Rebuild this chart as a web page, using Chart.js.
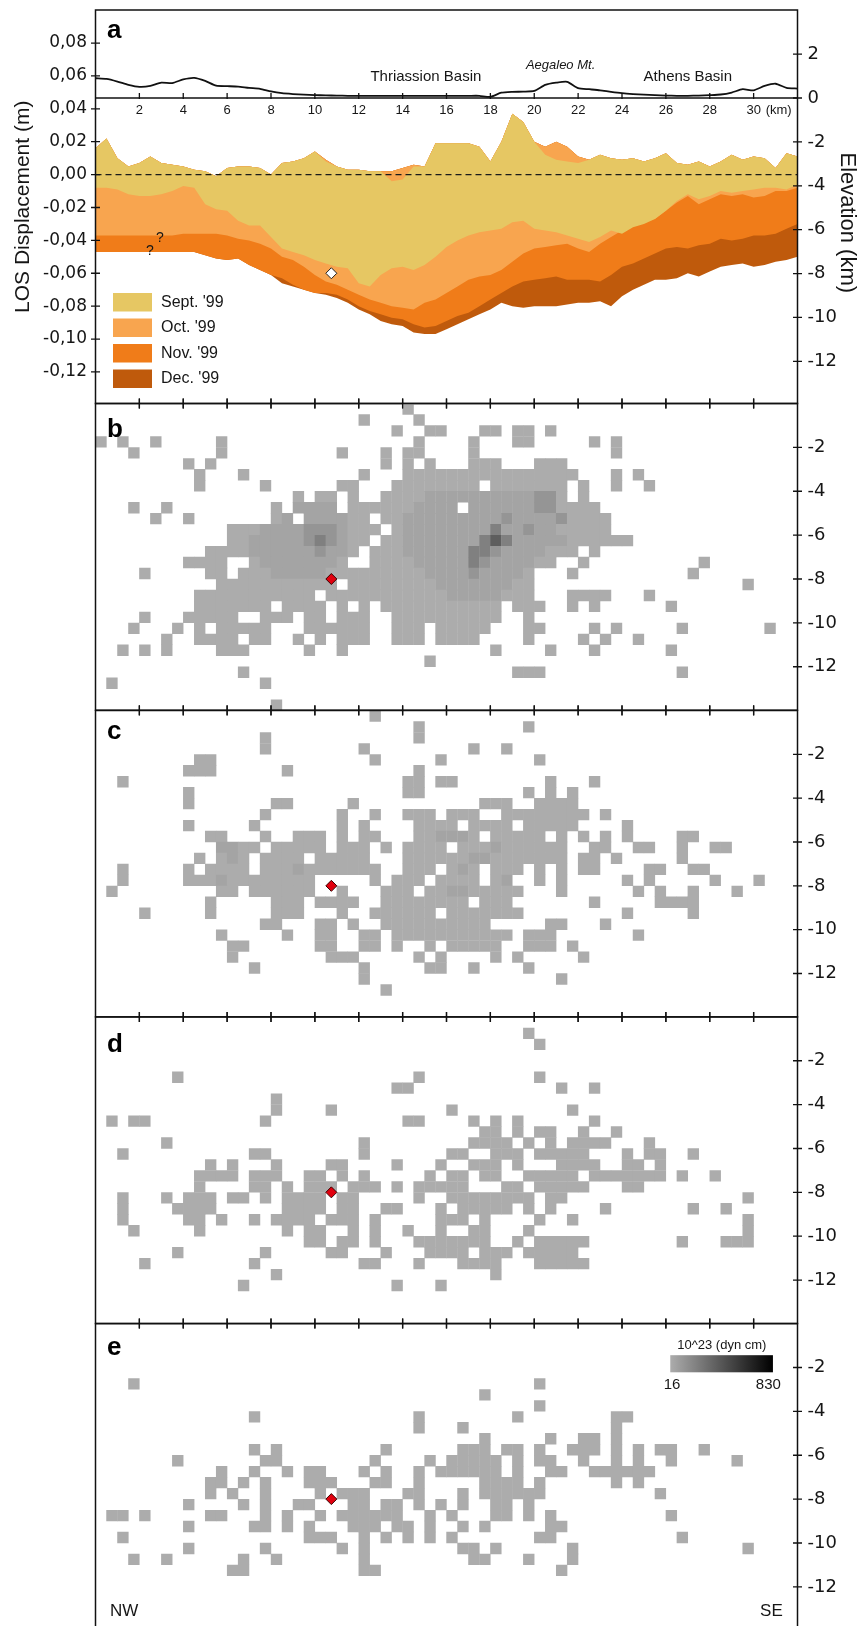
<!DOCTYPE html>
<html>
<head>
<meta charset="utf-8">
<title>LOS displacement and seismic moment sections</title>
<script src="https://cdn.jsdelivr.net/npm/chart.js@4.4.1/dist/chart.umd.min.js"></script>
<style>
    html, body { margin: 0; padding: 0; background: #fff; width: 865px; height: 1626px; overflow: hidden; }
    canvas { position: absolute; left: 0; }
</style>
</head>
<body>
<canvas id="panelA" width="865" height="412" style="top:0px"></canvas>
<canvas id="panelB" width="865" height="320" style="top:397px"></canvas>
<canvas id="panelC" width="865" height="320" style="top:704px"></canvas>
<canvas id="panelD" width="865" height="320" style="top:1010px"></canvas>
<canvas id="panelE" width="865" height="320" style="top:1317px"></canvas>
<script>
// profile distance along the section (km)
const distKm = [0,0.5,1,1.5,2,2.5,3,3.5,4,4.5,5,5.5,6,6.5,7,7.5,8,8.5,9,9.5,10,10.5,11,11.5,12,12.5,13,13.5,14,14.5,
    15,15.5,16,16.5,17,17.5,18,18.5,19,19.5,20,20.5,21,21.5,22,22.5,23,23.5,24,24.5,25,25.5,26,26.5,27,27.5,28,28.5,29,29.5,
    30,30.5,31,31.5,32];

// topography (km)
const elevationKm = [0.90,0.87,0.75,0.60,0.51,0.55,0.70,0.68,0.85,0.92,
    0.78,0.56,0.54,0.52,0.46,0.42,0.30,0.22,0.18,0.15,
    0.13,0.12,0.11,0.10,0.10,0.10,0.10,0.10,0.10,0.10,
    0.10,0.10,0.10,0.10,0.10,0.10,0.05,0.24,0.28,0.29,
    0.32,0.60,0.70,0.74,0.45,0.40,0.35,0.28,0.22,0.18,
    0.15,0.13,0.11,0.10,0.10,0.11,0.13,0.16,0.25,0.40,
    0.35,0.55,0.65,0.46,0.43];

// LOS displacement bands (m)
const septTop = [0.016,0.022,0.010,0.005,0.007,0.011,0.007,0.006,0.005,0.003,
    0.002,-0.001,0.004,0.005,0.005,0.004,0.000,0.007,0.008,0.010,
    0.014,0.008,0.005,0.003,0.003,0.002,0.002,-0.004,-0.003,0.005,
    0.005,0.019,0.019,0.019,0.019,0.017,0.008,0.020,0.037,0.032,
    0.020,0.012,0.009,0.008,0.007,0.009,0.012,0.010,0.009,0.010,
    0.008,0.010,0.013,0.007,0.006,0.008,0.005,0.008,0.012,0.009,
    0.011,0.010,0.004,0.013,0.011];
const laterTop = [0.016,0.022,0.010,0.005,0.007,0.011,0.007,0.006,0.005,0.003,
    0.002,-0.001,0.004,0.005,0.005,0.004,0.000,0.007,0.008,0.010,
    0.014,0.009,0.005,0.003,0.003,0.002,0.002,0.002,0.004,0.006,
    0.005,0.019,0.019,0.019,0.019,0.017,0.008,0.020,0.037,0.032,
    0.020,0.017,0.020,0.017,0.011,0.009,0.012,0.010,0.009,0.010,
    0.008,0.010,0.013,0.007,0.006,0.008,0.005,0.008,0.012,0.009,
    0.011,0.010,0.004,0.013,0.011];
const septLow = [-0.008,-0.008,-0.009,-0.012,-0.013,-0.013,-0.012,-0.010,-0.007,-0.008,
    -0.018,-0.021,-0.022,-0.028,-0.031,-0.031,-0.038,-0.045,-0.047,-0.049,
    -0.052,-0.054,-0.056,-0.057,-0.066,-0.068,-0.061,-0.057,-0.056,-0.058,
    -0.055,-0.050,-0.044,-0.040,-0.037,-0.035,-0.034,-0.033,-0.029,-0.028,
    -0.033,-0.034,-0.035,-0.037,-0.039,-0.041,-0.038,-0.034,-0.036,-0.032,
    -0.030,-0.027,-0.022,-0.016,-0.012,-0.015,-0.013,-0.010,-0.011,-0.010,
    -0.009,-0.008,-0.008,-0.009,-0.006];
const octLow = [-0.037,-0.037,-0.037,-0.037,-0.037,-0.037,-0.037,-0.037,-0.036,-0.036,
    -0.036,-0.036,-0.037,-0.039,-0.040,-0.042,-0.045,-0.050,-0.052,-0.056,
    -0.061,-0.065,-0.067,-0.070,-0.073,-0.076,-0.078,-0.080,-0.081,-0.082,
    -0.078,-0.076,-0.072,-0.068,-0.064,-0.062,-0.061,-0.058,-0.053,-0.048,
    -0.045,-0.044,-0.043,-0.042,-0.045,-0.047,-0.042,-0.038,-0.034,-0.030,
    -0.028,-0.027,-0.022,-0.017,-0.013,-0.018,-0.015,-0.012,-0.013,-0.012,
    -0.014,-0.013,-0.010,-0.010,-0.008];
const novLow = [-0.047,-0.047,-0.047,-0.047,-0.047,-0.047,-0.047,-0.047,-0.047,-0.047,
    -0.049,-0.051,-0.052,-0.051,-0.055,-0.058,-0.061,-0.063,-0.067,-0.070,
    -0.072,-0.072,-0.073,-0.076,-0.080,-0.083,-0.085,-0.087,-0.088,-0.091,
    -0.093,-0.092,-0.089,-0.086,-0.084,-0.080,-0.076,-0.072,-0.068,-0.065,
    -0.064,-0.063,-0.062,-0.064,-0.064,-0.064,-0.065,-0.061,-0.056,-0.054,
    -0.051,-0.048,-0.045,-0.044,-0.045,-0.043,-0.042,-0.039,-0.040,-0.039,
    -0.037,-0.037,-0.036,-0.033,-0.030];
const decLow = [-0.047,-0.047,-0.047,-0.047,-0.047,-0.047,-0.047,-0.047,-0.047,-0.047,
    -0.049,-0.051,-0.052,-0.051,-0.055,-0.058,-0.061,-0.066,-0.068,-0.070,
    -0.072,-0.073,-0.075,-0.078,-0.082,-0.085,-0.089,-0.091,-0.092,-0.096,
    -0.097,-0.097,-0.094,-0.091,-0.088,-0.085,-0.082,-0.078,-0.080,-0.081,
    -0.080,-0.080,-0.080,-0.079,-0.078,-0.078,-0.077,-0.080,-0.074,-0.070,
    -0.067,-0.064,-0.064,-0.063,-0.060,-0.062,-0.059,-0.056,-0.055,-0.054,
    -0.056,-0.055,-0.053,-0.052,-0.050];

const months = ["Sept. '99", "Oct. '99", "Nov. '99", "Dec. '99"];
const monthColors = ['#e6c763', '#f8a54f', '#f07c19', '#bf5a0c'];

const losMarker = [{x: 10.75, y: -0.06}];
const hypoMarker = [{x: 10.75, y: -8}];
const questionMarks = [{x: 2.93, y: -0.0385}, {x: 2.48, y: -0.0464}];
const places = [
    {text: 'Thriassion Basin', x: 15.06, y: 0.96, italic: false},
    {text: 'Aegaleo Mt.', x: 21.2, y: 1.5, italic: true},
    {text: 'Athens Basin', x: 27.0, y: 0.96, italic: false}
];

const kmTicks = [2, 4, 6, 8, 10, 12, 14, 16, 18, 20, 22, 24, 26, 28, 30];
const losTicks = [0.08, 0.06, 0.04, 0.02, 0, -0.02, -0.04, -0.06, -0.08, -0.10, -0.12];
const elevTicksA = [2, 0, -2, -4, -6, -8, -10, -12];
const elevTicks = [-2, -4, -6, -8, -10, -12];

// seismic moment cells, 0.5 km, one string per depth row: "col", "from-to", "col:shade"
const cellKm = 0.5;
const momentRowsB = [
    '28',
    '24,29',
    '27,30-31,35-36,38-39,41',
    '0,2,5,11,29,34,38-39,45,47',
    '3,11,22,26,28-29,34,47',
    '8,10,26,28,30,34-36,40-42',
    '9,13,24,28-43,47,49',
    '9,15,22-23,27-34,36-42,44,47,50',
    '18,20-21,23,26-42,44,30-41:2,40-41:3',
    '3,6,16,18-21,23-32,34-45,17-21:2,29-41:2,40-41:3',
    '5,8,16-17,19-24,26-46,17-22:2,28-41:2,37:3,42:3',
    '12-25,27-46,15-22:2,28-41:2,19-21:3,36:4,39:3',
    '12-24,26-48,14-22:2,28-42:2,19-21:3,20:4,35:4,36:5,37:4',
    '10-23,25-43,45,14-22:2,28-40:2,20:3,34-35:4,36:3',
    '8-11,14-22,25-41,44,55,15-21:2,29-39:2,34:4,35:3',
    '4,10-11,13-39,43,54,16-20:2,30-38:2,34:3',
    '11-21,23-39,59,31-37:2',
    '9-19,21-39,43-46,50,32-36:2',
    '9-15,17-20,22,24,26-36,38-40,43,45,52',
    '4,8-12,15-17,19-20,22-24,27-36,39',
    '3,7,9,11-15,19-24,27-29,31-35,39-40,45,47,53,61',
    '6,9-12,14-15,18,20,22-24,27-29,31-34,39,44,46,49',
    '2,4,6,11-13,19,22,36,41,45,52',
    '30',
    '13,38-40,53',
    '1,15',
    '',
    '16'
];
const momentRowsC = [
    '25',
    '29,39',
    '15,29',
    '15,24,34,37',
    '9-10,25,31,40',
    '8-10,17,29',
    '2,28-29,31-32,41,45',
    '8,28-29,39,41,43',
    '8,16-17,23,35-37,40-43',
    '15,22,25,28-30,32-34,37-44,46',
    '8,14,22,24,29-32,34-37,39-43,48',
    '10-11,15,18-20,22,24-25,29-34,36-40,42,44,46,48,53-54,31-33:2,41:2',
    '11-14,16-20,22-24,26,28-31,33-42,45-46,49-50,53,56-57,11-12:2,36:2',
    '9,11-13,15-18,20-24,28-42,44-45,47,53,34-35:2,12:2',
    '2,8,10-13,15-25,28-30,32-34,36-38,40,42,44-45,50-51,54-55,18:2,33:2',
    '2,8-19,25,27-29,31-34,36-37,40,42,48,50,56,60,11:2,37:2',
    '1,11-12,14-19,22,26-28,30-38,42,49,51,54,58,32-33:2',
    '10,16-18,20-23,26-33,35-37,45,51-54',
    '4,10,16-18,22,25-30,32-38,48,54',
    '15-16,20-21,23,26-35,41-42,46',
    '11,17,20-21,24-25,27-37,39-41,49',
    '12-13,20-21,24-25,27,30,32-36,39-41,43',
    '12,21-23,29,31,36,38,44',
    '14,24,30-31,34,39',
    '24,42',
    '26',
    '',
    ''
];
const momentRowsD = [
    '',
    '39',
    '40',
    '',
    '',
    '7,29,40',
    '27-28,42,45',
    '16',
    '16,21,32,43',
    '1,3-4,15,28-29,34,36,38,45',
    '35-36,38,40-41,44,47',
    '6,24,34-37,39,41,43-46,50',
    '2,14-15,24,32-33,36-38,40-44,48,50-51,54',
    '10,12,16,21-22,27,31,34-36,38,42-45,48-49,51',
    '9-12,14-16,19-20,22,24,30,32-33,35-36,39-43,45-51,53,56',
    '9,14-15,17,19-21,23-25,27,29-33,37-38,40-44,48-49',
    '2,6,8-10,12-13,15,17-20,22-23,29,32-39,41-42,59',
    '2,7-10,17-20,22-23,26-27,31,33-37,39,41,46,54,57',
    '2,8-9,11,14,16-19,21-23,25,31-33,35,40,43,59',
    '3,9,17,19-20,23,25,28,31,34-35,39,59',
    '19-20,22-23,25,29-35,38,40-44,53,57-59',
    '7,15,21-22,26,30-33,35-37,39-43',
    '4,14,24-25,29,33-36,40-44',
    '16,36',
    '13,27,31',
    '',
    '',
    ''
];
const momentRowsE = [
    '',
    '',
    '',
    '',
    '',
    '3,40',
    '35',
    '40',
    '14,29,38,47-48',
    '29,33,47',
    '35,41,44-45,47',
    '14,16,26,33-35,37-38,40,43-45,47,49,51-52,55',
    '7,15-16,25,30,32-36,38,40-41,44,47,49,52,58',
    '11,14,17,19-20,24,26,29,31-36,38,41-42,45-50',
    '10-11,13,15,19-21,25-26,29,35-38,40,47,49',
    '10,12,15,20,22-24,28-29,33,35-40,51',
    '8,13,15,18-19,23-24,26-27,29,31,33,36-37,39',
    '1-2,4,10-11,15,17,20,22-27,30,32,36-37,39,41,52',
    '8,14-15,17,19,23-25,27-28,30,33,35,41-42',
    '2,19-21,24,26,28,30,32,40-41,53',
    '8,15,22,24,33-34,36,43,59',
    '3,6,13,16,24,34-35,39,43',
    '12-13,24-25,42',
    '',
    '',
    '',
    '',
    ''
];
const shadeColors = ['#ffffff', '#acacac', '#a4a4a4', '#959595', '#808080', '#5e5e5e'];
const colorbarTitle = '10^23 (dyn cm)';
const colorbarLabels = ['16', '830'];

// panel frame positions in page pixels
const frameTopA = 10, frameBottomA = 403.5, heatFrameHeight = 306.7;
const heatCanvasTops = [397, 704, 1010, 1317];
const heatFrameTops = [403.5, 710.2, 1016.9, 1323.6];

const TEXT = '#161616';
const SANS = '"Liberation Sans", Arial, sans-serif';
const WIDE = '"DejaVu Sans", sans-serif';

function _points(values) {
    return values.map((v, i) => ({x: distKm[i], y: v}));
}

function _parseMomentRows(rows) {
    let cells = new Map();
    rows.forEach((row, r) => {
        let tokens = row ? row.split(',') : [];
        tokens.filter(t => t.indexOf(':') < 0).forEach(t => {
            let [a, b] = t.split('-').map(Number);
            let end = isNaN(b) ? a : b;
            for (let c = a; c <= end; c++) {
                cells.set(r + '_' + c, {x: (c + 0.5) * cellKm, y: -(r + 0.5) * cellKm, v: 1});
            }
        });
        tokens.filter(t => t.indexOf(':') >= 0).forEach(t => {
            let [span, level] = t.split(':');
            let [a, b] = span.split('-').map(Number);
            let end = isNaN(b) ? a : b;
            for (let c = a; c <= end; c++) {
                let cell = cells.get(r + '_' + c);
                if (cell) {
                    cell.v = Math.max(cell.v, Number(level));
                }
            }
        });
    });
    return Array.from(cells.values());
}

function _cellRadius(chart) {
    let xs = chart.scales.x;
    let px = xs.getPixelForValue(cellKm) - xs.getPixelForValue(0);
    return (px + 0.4) / Math.SQRT2;
}

// keep the frame where it is: no extra room for end labels
function _fixVertical(width) {
    return scale => {
        scale.width = width;
        scale.paddingTop = 0;
        scale.paddingBottom = 0;
    };
}

function _tickLine(ctx, x1, y1, x2, y2) {
    ctx.moveTo(x1, y1);
    ctx.lineTo(x2, y2);
}

function _drawFrame(chart, yScaleId, ticks, topTicks, bottomTicks) {
    let ctx = chart.ctx, area = chart.chartArea, xs = chart.scales.x, ys = chart.scales[yScaleId];
    ctx.save();
    ctx.strokeStyle = '#111';
    ctx.lineWidth = 1.5;
    ctx.strokeRect(area.left, area.top, area.right - area.left, area.bottom - area.top);
    ctx.lineWidth = 1.3;
    ctx.beginPath();
    kmTicks.forEach(v => {
        let px = xs.getPixelForValue(v);
        if (topTicks) {
            _tickLine(ctx, px, area.top - 5, px, area.top + 5);
        }
        if (bottomTicks) {
            _tickLine(ctx, px, area.bottom - 5, px, area.bottom + 5);
        }
    });
    ticks.forEach(v => {
        let py = ys.getPixelForValue(v);
        _tickLine(ctx, area.right - 4.5, py, area.right + 4.5, py);
    });
    ctx.stroke();
    ctx.restore();
}

function _drawLetter(chart, letter, baseline) {
    let ctx = chart.ctx, area = chart.chartArea;
    ctx.save();
    ctx.fillStyle = '#000';
    ctx.font = 'bold 26px ' + SANS;
    ctx.textAlign = 'left';
    ctx.textBaseline = 'alphabetic';
    ctx.fillText(letter, area.left + 11.5, area.top + baseline);
    ctx.restore();
}

const profilePlugin = {
    id: 'profileDecor',
    afterDraw(chart) {
        let ctx = chart.ctx, area = chart.chartArea, xs = chart.scales.x, ys = chart.scales.y, ye = chart.scales.yE;
        _drawFrame(chart, 'yE', elevTicksA, false, true);

        ctx.save();
        // sea-level line of the topography strip
        let seaY = ye.getPixelForValue(0);
        ctx.strokeStyle = '#111';
        ctx.lineWidth = 1.5;
        ctx.beginPath();
        _tickLine(ctx, area.left, seaY, area.right, seaY);
        ctx.stroke();
        ctx.lineWidth = 1.3;
        ctx.beginPath();
        kmTicks.forEach(v => {
            let px = xs.getPixelForValue(v);
            _tickLine(ctx, px, seaY - 5, px, seaY + 1);
        });
        losTicks.forEach(v => {
            let py = ys.getPixelForValue(v);
            _tickLine(ctx, area.left - 4.5, py, area.left + 4.5, py);
        });
        ctx.stroke();

        ctx.fillStyle = TEXT;
        ctx.textBaseline = 'middle';
        ctx.textAlign = 'left';
        ctx.font = '13px ' + SANS;
        ctx.fillText('(km)', xs.getPixelForValue(30) + 12, seaY + 12.5);

        ctx.textAlign = 'center';
        places.forEach(p => {
            ctx.font = (p.italic ? 'italic 13px ' : '15px ') + SANS;
            ctx.fillText(p.text, xs.getPixelForValue(p.x), ye.getPixelForValue(p.y));
        });

        ctx.font = '14px ' + SANS;
        questionMarks.forEach(q => {
            ctx.fillText('?', xs.getPixelForValue(q.x), ys.getPixelForValue(q.y));
        });

        // legend
        months.forEach((m, i) => {
            let top = area.top + 283 + i * 25.5;
            ctx.fillStyle = monthColors[i];
            ctx.fillRect(area.left + 17.5, top, 39, 18.5);
            ctx.fillStyle = TEXT;
            ctx.textAlign = 'left';
            ctx.font = '16px ' + SANS;
            ctx.fillText(m, area.left + 65.5, top + 9.5);
        });

        // right axis title
        ctx.save();
        ctx.translate(area.right + 49.5, (area.top + area.bottom) / 2 + 16);
        ctx.rotate(Math.PI / 2);
        ctx.textAlign = 'center';
        ctx.font = '22px ' + SANS;
        ctx.fillText('Elevation (km)', 0, 0);
        ctx.restore();
        ctx.restore();

        _drawLetter(chart, 'a', 28);
    }
};

function _createProfileChart(elementId) {
    let datasets = [
        {
            type: 'scatter', label: 'reference point', data: losMarker, yAxisID: 'y',
            pointStyle: 'rectRot', pointRadius: 5.5, pointBackgroundColor: '#ffffff',
            pointBorderColor: '#222', pointBorderWidth: 1
        },
        {
            label: 'zero', data: [{x: 0, y: 0}, {x: 32, y: 0}], yAxisID: 'y',
            borderColor: '#1a1a1a', borderWidth: 1.4, borderDash: [6, 4], pointRadius: 0, fill: false
        },
        {
            label: 'topography', data: _points(elevationKm), yAxisID: 'yE',
            borderColor: '#111', borderWidth: 1.8, pointRadius: 0, fill: false, tension: 0.2
        }
    ];
    let tops = [septTop, laterTop, laterTop, laterTop];
    let lows = [septLow, octLow, novLow, decLow];
    months.forEach((m, i) => {
        datasets.push({
            label: m + ' top', data: _points(tops[i]), yAxisID: 'y',
            borderColor: 'rgba(0,0,0,0)', borderWidth: 0, pointRadius: 0, fill: false
        });
        datasets.push({
            label: m, data: _points(lows[i]), yAxisID: 'y',
            borderColor: 'rgba(0,0,0,0)', borderWidth: 0, pointRadius: 0,
            fill: '-1', backgroundColor: monthColors[i]
        });
    });

    let canvas = document.getElementById(elementId);
    return new Chart(canvas, {
        type: 'line',
        data: {datasets: datasets},
        options: {
            responsive: false,
            animation: false,
            events: [],
            layout: {
                padding: {top: frameTopA, bottom: canvas.height - frameBottomA, left: 0, right: 0}
            },
            plugins: {
                legend: {display: false},
                tooltip: {enabled: false}
            },
            scales: {
                x: {
                    type: 'linear',
                    min: 0,
                    max: 32,
                    position: {yE: 0},
                    afterBuildTicks: scale => { scale.ticks = kmTicks.map(v => ({value: v})); },
                    afterFit: scale => { scale.paddingLeft = 0; scale.paddingRight = 0; },
                    grid: {display: false, drawTicks: false},
                    border: {display: false},
                    ticks: {
                        padding: 4.5,
                        color: TEXT,
                        maxRotation: 0,
                        autoSkip: false,
                        font: {family: SANS, size: 13}
                    }
                },
                y: {
                    type: 'linear',
                    position: 'left',
                    min: -0.1392,
                    max: 0.1001,
                    afterFit: _fixVertical(95.5),
                    afterBuildTicks: scale => { scale.ticks = losTicks.map(v => ({value: v})); },
                    grid: {display: false, drawTicks: false},
                    border: {display: false},
                    ticks: {
                        padding: 8.5,
                        color: TEXT,
                        font: {family: WIDE, size: 17},
                        callback: function(value) {
                            return value.toFixed(2).replace('.', ',');
                        }
                    },
                    title: {
                        display: true,
                        text: 'LOS Displacement (m)',
                        color: TEXT,
                        padding: {top: 11, bottom: 0},
                        font: {family: SANS, size: 21}
                    }
                },
                yE: {
                    type: 'linear',
                    position: 'right',
                    min: -13.92,
                    max: 4.01,
                    afterFit: _fixVertical(67.5),
                    afterBuildTicks: scale => { scale.ticks = elevTicksA.map(v => ({value: v})); },
                    grid: {display: false, drawTicks: false},
                    border: {display: false},
                    ticks: {
                        padding: 10,
                        color: TEXT,
                        font: {family: WIDE, size: 18}
                    }
                }
            }
        },
        plugins: [profilePlugin]
    });
}

function _createMomentChart(elementId, rows, index, letter, letterBaseline, isLast) {
    let canvas = document.getElementById(elementId);
    let padTop = heatFrameTops[index] - heatCanvasTops[index];
    let padBottom = canvas.height - padTop - heatFrameHeight;
    return new Chart(canvas, {
        type: 'scatter',
        data: {
            datasets: [
                {
                    label: 'hypocentre', data: hypoMarker,
                    pointStyle: 'rectRot', pointRadius: 5.5,
                    pointBackgroundColor: '#e1000e', pointBorderColor: '#3b0000', pointBorderWidth: 1
                },
                {
                    label: 'moment', data: _parseMomentRows(rows),
                    pointStyle: 'rect',
                    pointRadius: ctx => _cellRadius(ctx.chart),
                    pointBackgroundColor: ctx => shadeColors[ctx.raw ? ctx.raw.v : 1],
                    pointBorderWidth: 0
                }
            ]
        },
        options: {
            responsive: false,
            animation: false,
            events: [],
            layout: {
                padding: {top: padTop, bottom: padBottom, left: 95.5, right: 0}
            },
            plugins: {
                legend: {display: false},
                tooltip: {enabled: false}
            },
            scales: {
                x: {type: 'linear', min: 0, max: 32, display: false},
                y: {
                    type: 'linear',
                    position: 'right',
                    min: -13.98,
                    max: 0,
                    afterFit: _fixVertical(67.5),
                    afterBuildTicks: scale => { scale.ticks = elevTicks.map(v => ({value: v})); },
                    grid: {display: false, drawTicks: false},
                    border: {display: false},
                    ticks: {
                        padding: 10,
                        color: TEXT,
                        font: {family: WIDE, size: 18}
                    }
                }
            }
        },
        plugins: [{
            id: 'momentDecor',
            afterDraw(chart) {
                _drawFrame(chart, 'y', elevTicks, true, !isLast);
                _drawLetter(chart, letter, letterBaseline);
                if (!isLast) {
                    return;
                }
                let ctx = chart.ctx, xs = chart.scales.x, ys = chart.scales.y;
                ctx.save();
                ctx.fillStyle = TEXT;
                ctx.textBaseline = 'middle';
                ctx.font = '17px ' + SANS;
                ctx.textAlign = 'left';
                ctx.fillText('NW', xs.getPixelForValue(0.66), ys.getPixelForValue(-13.1));
                ctx.textAlign = 'right';
                ctx.fillText('SE', xs.getPixelForValue(31.33), ys.getPixelForValue(-13.1));

                // colour scale
                let x0 = xs.getPixelForValue(26.2), x1 = xs.getPixelForValue(30.88);
                let y0 = ys.getPixelForValue(-1.44), y1 = ys.getPixelForValue(-2.22);
                let grad = ctx.createLinearGradient(x0, 0, x1, 0);
                grad.addColorStop(0, shadeColors[1]);
                grad.addColorStop(1, '#000000');
                ctx.fillStyle = grad;
                ctx.fillRect(x0, y0, x1 - x0, y1 - y0);
                ctx.fillStyle = TEXT;
                ctx.font = '13px ' + SANS;
                ctx.textAlign = 'center';
                ctx.fillText(colorbarTitle, xs.getPixelForValue(28.55), ys.getPixelForValue(-0.98));
                ctx.font = '15px ' + SANS;
                ctx.textAlign = 'left';
                ctx.fillText(colorbarLabels[0], xs.getPixelForValue(25.9), ys.getPixelForValue(-2.8));
                ctx.textAlign = 'right';
                ctx.fillText(colorbarLabels[1], xs.getPixelForValue(31.24), ys.getPixelForValue(-2.8));
                ctx.restore();
            }
        }]
    });
}

_createProfileChart('panelA');
_createMomentChart('panelB', momentRowsB, 0, 'b', 33, false);
_createMomentChart('panelC', momentRowsC, 1, 'c', 28, false);
_createMomentChart('panelD', momentRowsD, 2, 'd', 35, false);
_createMomentChart('panelE', momentRowsE, 3, 'e', 31, true);
</script>
</body>
</html>
